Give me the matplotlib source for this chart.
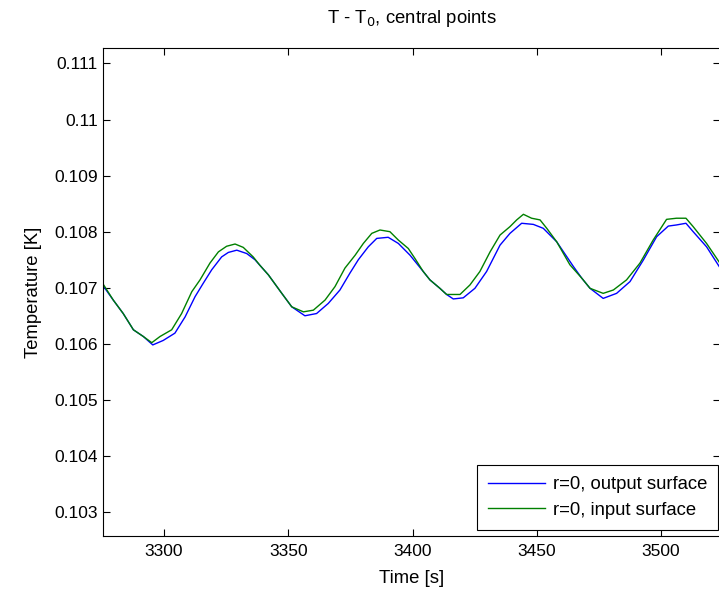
import numpy as np
import matplotlib
matplotlib.use("Agg")
import matplotlib.pyplot as plt

# values
t_out = [3275.6, 3279.6, 3283.6, 3287.7, 3291.7, 3295.5, 3299.7, 3304.4, 3308.5,
         3312.5, 3315.8, 3319.2, 3323.2, 3325.9, 3329.3, 3333.3, 3336.6, 3342.0,
         3347.4, 3351.4, 3356.7, 3361.4, 3366.1, 3370.8, 3374.8, 3378.2, 3382.2,
         3385.6, 3390.2, 3394.3, 3399.0, 3404.3, 3407.0, 3411.0, 3413.7, 3416.4,
         3420.4, 3425.1, 3429.8, 3435.2, 3439.2, 3443.9, 3448.6, 3452.6, 3458.0,
         3464.7, 3468.1, 3471.4, 3476.7, 3482.1, 3487.5, 3492.8, 3498.2, 3502.9,
         3506.2, 3510.0, 3512.9, 3518.3, 3523.5]
T_out = [0.10703, 0.10678, 0.10654, 0.10625, 0.10613, 0.10598, 0.10606, 0.10619, 0.10648,
         0.10684, 0.10708, 0.10732, 0.10755, 0.10763, 0.10767, 0.10761, 0.10750, 0.10723,
         0.10690, 0.10666, 0.10650, 0.10654, 0.10672, 0.10696, 0.10726, 0.10750, 0.10773,
         0.10788, 0.10790, 0.10779, 0.10758, 0.10729, 0.10714, 0.10699, 0.10688, 0.10680,
         0.10682, 0.10699, 0.10729, 0.10776, 0.10797, 0.10815, 0.10813, 0.10806, 0.10782,
         0.10738, 0.10717, 0.10699, 0.10681, 0.10690, 0.10711, 0.10749, 0.10791, 0.10810,
         0.10812, 0.10815, 0.10800, 0.10773, 0.10737]

t_in = [3275.6, 3279.6, 3283.6, 3287.7, 3291.7, 3295.1, 3298.4, 3303.1, 3307.1,
        3311.2, 3314.5, 3318.5, 3321.9, 3325.2, 3328.6, 3331.9, 3335.9, 3338.6,
        3342.0, 3347.4, 3351.4, 3356.1, 3360.1, 3364.8, 3368.8, 3372.8, 3376.9,
        3380.2, 3383.6, 3386.9, 3390.9, 3394.3, 3398.3, 3401.0, 3404.3, 3407.0,
        3411.0, 3413.7, 3419.1, 3423.1, 3427.1, 3431.2, 3435.2, 3439.2, 3441.9,
        3444.6, 3447.9, 3451.3, 3454.0, 3458.0, 3463.3, 3468.1, 3471.4, 3476.7,
        3480.8, 3486.1, 3491.5, 3496.8, 3502.2, 3506.2, 3510.0, 3512.9, 3518.3,
        3523.5]
T_in = [0.10706, 0.10678, 0.10654, 0.10625, 0.10613, 0.10602, 0.10613, 0.10625, 0.10654,
        0.10693, 0.10714, 0.10744, 0.10764, 0.10774, 0.10778, 0.10772, 0.10755, 0.10740,
        0.10723, 0.10690, 0.10666, 0.10657, 0.10660, 0.10678, 0.10702, 0.10735, 0.10758,
        0.10779, 0.10797, 0.10803, 0.10800, 0.10785, 0.10770, 0.10752, 0.10729, 0.10714,
        0.10699, 0.10688, 0.10688, 0.10705, 0.10729, 0.10764, 0.10794, 0.10809, 0.10821,
        0.10831, 0.10824, 0.10821, 0.10806, 0.10782, 0.10741, 0.10717, 0.10699, 0.10690,
        0.10696, 0.10714, 0.10744, 0.10785, 0.10822, 0.10824, 0.10824, 0.10809, 0.10779,
        0.10745]

xticks = [3300, 3350, 3400, 3450, 3500]
yticks = [0.103, 0.104, 0.105, 0.106, 0.107, 0.108, 0.109, 0.110, 0.111]
ytick_labels = ["0.103", "0.104", "0.105", "0.106", "0.107", "0.108", "0.109", "0.11", "0.111"]

plt.rcParams['font.family'] = ['Liberation Sans', 'DejaVu Sans']

fig = plt.figure(figsize=(7.19, 5.89), dpi=100)
ax = fig.add_axes([0.1437, 0.0905, 0.8577, 0.8272])

ax.plot(t_out, T_out, color=(0, 0, 1), lw=1.0, label="r=0, output surface")
ax.plot(t_in, T_in, color=(0, 0.5, 0), lw=1.0, label="r=0, input surface")

ax.set_xlim(3275.6, 3523.7)
ax.set_ylim(0.102577, 0.111268)
ax.set_xticks(xticks)
ax.set_yticks(yticks)
ax.set_yticklabels(ytick_labels)
ax.tick_params(direction='in', top=True, right=True, length=5, width=0.8,
               labelsize=12.5)
ax.tick_params(axis='x', pad=6)
ax.tick_params(axis='y', pad=4)
for s in ax.spines.values():
    s.set_linewidth(0.8)

ax.set_title("T - T$_0$, central points", fontsize=13.3, pad=18)
ax.set_xlabel("Time [s]", fontsize=13.3, labelpad=8)
ax.set_ylabel("Temperature [K]", fontsize=13.3, labelpad=9)

leg = ax.legend(loc='lower right', bbox_to_anchor=(0.9968, 0.0117), borderaxespad=0,
                fancybox=False, edgecolor='black', framealpha=1, handlelength=3.1,
                handletextpad=0.4, borderpad=0.6, labelspacing=0.46, fontsize=13.3)
leg.get_frame().set_linewidth(0.8)

fig.savefig("out.png", dpi=100)
